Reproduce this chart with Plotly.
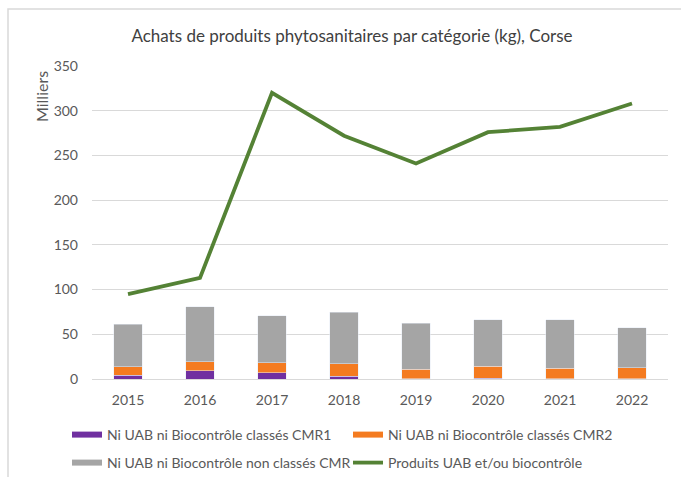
import plotly.graph_objects as go

years = ["2015", "2016", "2017", "2018", "2019", "2020", "2021", "2022"]
cmr1 = [4, 9, 7, 3, 0.5, 1, 0.3, 0.3]
cmr2 = [9.5, 10.4, 11, 14, 10.5, 13, 11.7, 12.4]
non_cmr = [47.5, 61.3, 53, 57.7, 51.5, 52, 54, 44.8]
uab_bio = [95, 113, 320, 272, 241, 276, 282, 308]

names = ["Ni UAB ni Biocontrôle classés CMR1",
         "Ni UAB ni Biocontrôle classés CMR2",
         "Ni UAB ni Biocontrôle non classés CMR",
         "Produits UAB et/ou biocontrôle"]
colors = ["#7030A0", "#F47B20", "#A5A5A5", "#548235"]

FONT = "Lato"
TXT = "#595959"

fig = go.Figure()
for vals, nm, col in zip([cmr1, cmr2, non_cmr], names[:3], colors[:3]):
    fig.add_trace(go.Bar(x=years, y=vals, name=nm, marker_color=col, width=0.4,
                         showlegend=False))
fig.add_trace(go.Scatter(x=years, y=uab_bio, name=names[3], mode="lines",
                         line=dict(color=colors[3], width=3.8), legend="legend2"))

# legend-only swatches (wide flat bars like the original legend keys)
for i in range(3):
    fig.add_trace(go.Scatter(x=[None], y=[None], name=names[i], mode="lines",
                             line=dict(color=colors[i], width=6),
                             legend="legend" if i < 2 else "legend2",
                             legendrank=i if i < 2 else 0))
fig.data[3].legendrank = 5

W, H = 681, 477
L, R, T, B = 92, 13, 66, 98
pw, ph = W - L - R, H - T - B

def px(x):
    return (x - L) / pw

def py(y):
    return (H - B - y) / ph

leg_common = dict(orientation="h", xanchor="left", yanchor="middle",
                  entrywidth=236, entrywidthmode="pixels", traceorder="normal",
                  font=dict(size=14, color=TXT), bgcolor="rgba(0,0,0,0)")

fig.update_layout(
    width=W, height=H,
    margin=dict(l=L, r=R, t=T, b=B, autoexpand=False),
    barmode="stack",
    plot_bgcolor="white",
    paper_bgcolor="white",
    font=dict(family=FONT, color=TXT, size=13),
    title=dict(text="Achats de produits phytosanitaires par catégorie (kg), Corse",
               x=352 / W, xanchor="center", y=1 - 36 / H, yanchor="middle",
               yref="container", font=dict(family=FONT, size=17, color="#404040")),
    xaxis=dict(showgrid=False, showline=True, linecolor="#D9D9D9", linewidth=1,
               ticks="", ticklabelstandoff=8, tickfont=dict(size=14, color=TXT)),
    yaxis=dict(range=[0, 350], dtick=50, showgrid=True, gridcolor="#D9D9D9",
               gridwidth=1, zeroline=False, ticks="", ticklabelstandoff=13,
               tickfont=dict(size=14, color=TXT)),
    legend=dict(x=px(67), y=py(435), **leg_common),
    legend2=dict(x=px(67), y=py(463), **leg_common),
    showlegend=True,
    shapes=[dict(type="rect", xref="paper", yref="paper",
                 x0=px(8), x1=px(700), y0=py(500), y1=py(9),
                 line=dict(color="#D9D9D9", width=1.5), layer="below")],
    annotations=[dict(text="Milliers", xref="paper", yref="paper",
                      x=px(42), y=py(97), textangle=-90, showarrow=False,
                      xanchor="center", yanchor="middle",
                      font=dict(size=16, color=TXT))],
)

fig.write_html("out.html", config={"displayModeBar": False},
               post_script="document.body.style.margin='0';document.body.style.overflow='hidden';")
